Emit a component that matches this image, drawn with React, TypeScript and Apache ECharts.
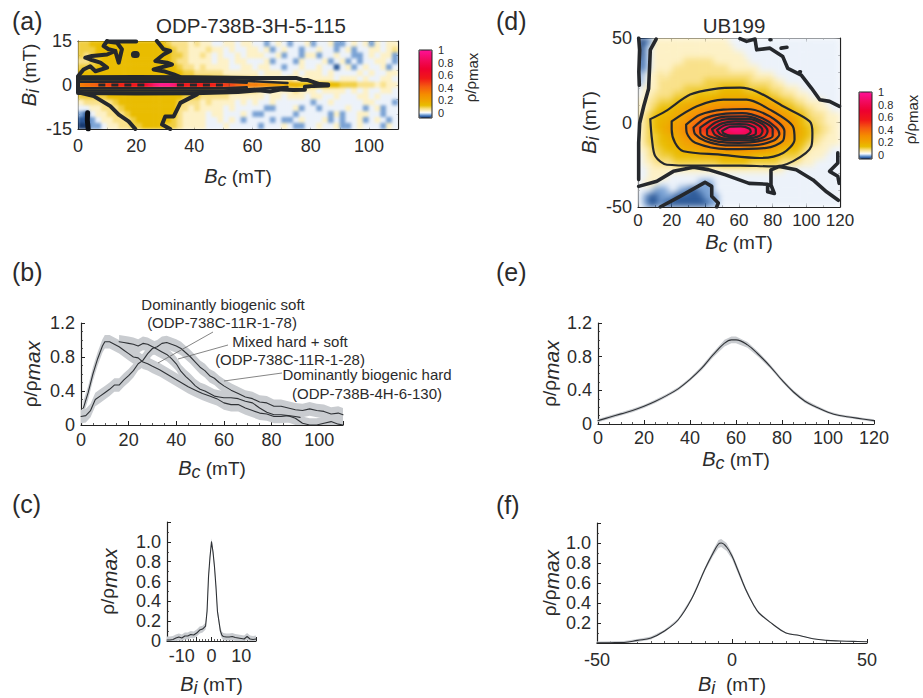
import React, { useEffect, useRef } from "react";
import * as echarts from "echarts";

const FONT = "Liberation Sans";
const INK = "#2b2b2b";
const CONTOUR = "#25282c";
const BAND = "#c9ccd0";

// Density maps: one base-36 character per cell, 3 = 0, z = 1 (step 1/32), top row first.
const mapARows = [
  "66777 77777 77777 65554 54433 44344 33234 32334 23342 23434 24344",
  "66677 77777 77777 76554 44544 34334 43423 43323 34332 34233 44345",
  "65677 77777 77777 76654 45434 33434 44334 23324 42334 33223 43442",
  "55667 77777 77777 76554 44434 43443 33423 33243 33423 42323 34432",
  "66677 77777 77777 77655 45444 43344 34433 23343 34331 34234 33423",
  "77777 77777 77777 77766 55555 44444 43444 33434 44343 33343 43344",
  "88887 88888 88888 88888 77766 65555 54444 45444 44443 44434 33443",
  "efghi jklmn nptxz zxqnm nmmlk jigfe edcba 98877 77777 66655 54544",
  "88888 88888 88888 88888 77766 65555 54444 44544 43444 43434 33443",
  "66666 77777 77777 77766 65555 54444 44344 34443 44334 33344 34333",
  "45555 56777 77777 77655 54544 44343 43343 33333 23343 33334 43332",
  "33445 55677 77777 77554 54444 34333 33223 33423 32333 34332 34233",
  "21344 55567 77777 77544 44344 33343 22333 33233 33324 23344 33233",
  "11234 45556 77777 76544 44334 34323 33323 22343 33423 23342 34323",
  "00223 44556 67777 66544 44333 43333 32333 43223 34334 22343 33243",
];
const mapDRows = [
  "01244 44444 44444 44433 33333 33333 33333 33333",
  "02344 44444 44444 44443 33333 33333 33333 33333",
  "02344 44444 44444 44444 43333 33333 33333 33333",
  "12344 44445 55555 44444 44333 33333 33333 33333",
  "12344 44555 55555 55544 44443 33333 33333 33333",
  "23445 45555 55555 55555 55544 44333 33333 33333",
  "23445 55555 55566 66666 66555 55443 33333 33333",
  "34445 55556 66666 67777 76666 65554 44333 33333",
  "34455 55666 67777 78888 88777 76655 54443 33333",
  "44556 66778 88999 aaaaa aaaa9 99876 65544 44333",
  "44567 77899 aabbc ccddd dddcc bba98 76655 44433",
  "45677 8899a bcdef gghhh hhggf edcba 98765 55444",
  "45678 89aab dfghj klmno onmlk jhfdc b9766 55444",
  "45678 9aabd fhjmo rtwyz xwusp nkied ba876 65544",
  "45667 889ab defgh klnpr srpnl ihfdc b9876 55444",
  "45667 7889a abcde fgghh hhggf edcba 98765 54444",
  "44566 77789 99aab bbccc ccbbb aa987 77654 44433",
  "34556 66777 77888 88888 88877 77766 66544 44333",
  "34455 55666 66666 67777 77666 66655 55444 33333",
  "33444 44444 44444 44444 44444 44443 33333 33333",
  "33444 43333 33333 33333 33333 33333 33333 33333",
  "34443 33333 33222 33333 33333 33333 33333 33333",
  "33322 23322 11222 33333 33333 33333 33333 33333",
  "32112 22111 11122 23333 33333 33333 33333 33333",
  "32112 11111 11112 23333 33333 33333 33333 33333",
];

// Contours of panel (a), [Bc, Bi]
const aUpperContour = [[0,3],[1.9,5.3],[4.2,6.4],[6,4.7],[10,5.9],[7.7,7.6],[4.2,8.7],[2.5,9.3],[4.8,9.9],[10,10.4],[12.8,11.6],[10.5,12.2],[8.8,13.3],[10,15]];
const aSpur = [[12.8,11.6],[14,7.6],[15.1,12.2],[13.4,14.4],[10,14.8],[20,14.8]];
const aRightContour = [[27.1,15],[29.4,12.2],[31.7,11.6],[29.4,10.4],[26.6,8.2],[30.6,7.6],[32.3,7],[28.3,5.9],[26,5.3],[29.4,4.7],[32.9,3.6],[35,2.8]];
const aDot = [[19.4,10.4],[20,10.4]];
const aLowerLeft = [[0.8,-2.7],[5.4,-3.8],[11.1,-7.2],[14,-10.1],[17.4,-12.4],[19.7,-15]];
const aLowerRight = [[40.9,-3.2],[35.2,-6.1],[32.9,-10.7],[30,-10.7],[28.9,-13.5],[31.7,-15]];
const aBlueSpot = [[3.3,-9.5],[3.2,-12],[3.5,-15]];
const aLensOuter = [[0,2.6],[20,2.7],[40,2.6],[60,2.4],[75,2.4],[77,1.8],[79,1.7],[81,1],[83,0.3],[86,0.2],[86,-0.2],[81,-0.3],[78,-0.6],[78,-1.6],[74,-1.7],[70,-1.5],[66,-2.2],[62,-1.8],[55,-2.4],[40,-2.8],[20,-2.9],[0,-2.7],[0,2.6]];
const aLensStrands = [
  [[0,1.9],[50,1.8],[60,1.3],[72,0.7]],
  [[0,-1.9],[50,-1.9],[60,-1.4],[72,-0.7]],
  [[0,1.1],[50,1.1],[58,0.8]],
  [[0,-1.1],[50,-1.1],[58,-0.8]],
];
const aLensBreaks = [[[7,0],[23,0]],[[34,0],[52,0]]];

// Contours of panel (d)
const dThick = [
  [[10.8,49.4],[7.3,43],[6.9,33],[6.3,20],[3.4,9.6],[1,-0.3],[0.4,-12],[0.4,-33.8]],
  [[0.4,50],[1,43],[0.5,30],[0.8,22]],
  [[0.4,-37.8],[11.2,-34.8],[21,-28.9],[33,-26.5],[41.8,-27.9],[52,-31],[66,-36],[77,-36.5],[77,-41],[81,-42],[79,-37],[79,-28],[84,-26],[94,-28],[104,-34],[112,-41],[119,-46]],
  [[13.2,-50],[25,-43.7],[39.8,-35.4],[43.8,-37.8],[43.8,-43.7],[47.7,-47.6],[46.7,-50]],
  [[60.6,49.6],[64.5,48],[69.5,49.4],[70.5,43],[78.4,44],[86,39],[89,32],[97,28],[103,20.4],[108,13.5],[113.8,12.5],[119.7,9.6]],
  [[118.7,-18],[118.7,-24],[113.8,-28.9],[118.7,-31.8],[119.5,-36]],
  [[94,41],[94.4,41]],
  [[85,44],[88.5,44.5]],
  [[78.4,49],[78.9,49]],
  [[96,30],[96.5,30]],
  [[110.6,19.8],[111,19.8]],
];
const dLevels = [
  [[7.3,2],[16.2,6.6],[31,16.5],[44.8,19.8],[60.6,20.6],[70.4,18.4],[86.2,9.6],[102,0.7],[103.6,-6.2],[103,-14],[92,-23],[80.3,-26],[60.6,-25.5],[35,-25.5],[17.2,-25],[10.3,-20],[8.3,-10]],
  [[20,0.7],[35,9.6],[50.7,13.5],[64.5,13.5],[78.3,7.6],[92,-2.3],[93,-10],[86.2,-18],[72.4,-21],[48.7,-19],[27,-17],[22,-12],[20,-4]],
  [[28.6,-1.3],[36.9,4.6],[50.7,7.6],[64.5,8],[78.3,3.6],[87,-5.2],[86,-11],[76.3,-15],[52.7,-15.7],[34,-12],[29,-6.2]],
  [[33,-3],[40,2.5],[50,5],[62,5.5],[74,2.5],[82,-3],[84,-7],[80,-11],[68,-13.5],[52,-13.5],[40,-11],[34,-7]],
  [[37,-3],[44,1.5],[52,3.5],[64,3.6],[72,1.5],[80,-4],[80,-8],[72,-11],[60,-12],[48,-11.5],[40,-9],[37,-6]],
  [[41,-4],[46,0],[54,2],[66,2],[74,-1],[77,-5],[75,-8.5],[66,-10.5],[54,-10.5],[45,-9],[41,-7]],
  [[44,-4],[50,-0.5],[58,0.7],[66,0.5],[72,-2],[74,-5],[72,-8],[64,-9.5],[52,-9.5],[46,-7.5]],
  [[47,-4.5],[52,-1.5],[60,-0.9],[66,-1.5],[70,-4],[70,-6.5],[64,-8.5],[54,-8.5],[49,-7]],
  [[50,-5],[55,-2.5],[61,-2.3],[66,-3.5],[67,-5.5],[63,-7.7],[55,-7.7],[51,-6.5]],
];

// Panel (b)
const softBc = [1,3,5,7,9,10,12,14,16,18,20,22,24,26,28,30,33,36,39,42,45,48,51,54,57,60,63,66,69,72,75,78,81,84,87,90,92];
const softRho = [0.2,0.38,0.6,0.78,0.93,0.98,0.98,0.95,0.92,0.88,0.84,0.8,0.79,0.74,0.72,0.69,0.65,0.6,0.55,0.5,0.45,0.41,0.37,0.34,0.31,0.26,0.24,0.24,0.2,0.17,0.14,0.13,0.1,0.1,0.11,0.1,0.09];
const mixedBc = [16,18,20,22,24,26,28,30,32,34,36,38,40,42,44,46,48,50,52,54,56,58,60,63,66,69,72,75,78,81,84,87,90,93,96,99,102,105,108,110];
const mixedRho = [0.98,0.97,0.96,0.95,0.93,0.96,0.95,0.92,0.89,0.86,0.83,0.78,0.72,0.63,0.57,0.52,0.46,0.42,0.4,0.37,0.34,0.33,0.32,0.32,0.31,0.28,0.26,0.2,0.15,0.12,0.12,0.11,0.08,0.02,0,0,0.02,0.04,0.01,0];
const hardBc = [0,2,4,6,8,10,12,14,16,18,20,22,24,26,28,30,32,34,36,38,40,42,44,46,48,50,52,54,56,58,60,63,66,69,72,75,78,81,84,87,90,93,96,99,102,105,108,110];
const hardRho = [0.1,0.11,0.17,0.3,0.34,0.38,0.42,0.47,0.47,0.53,0.58,0.64,0.72,0.76,0.84,0.9,0.92,0.96,0.97,0.95,0.93,0.9,0.85,0.8,0.74,0.68,0.64,0.58,0.55,0.5,0.46,0.41,0.37,0.33,0.31,0.27,0.26,0.22,0.22,0.2,0.18,0.17,0.19,0.17,0.16,0.13,0.14,0.12];
const bHalfBand = 0.08;

// Panel (c)
const cBi = [-15,-14,-13,-12,-11,-10,-9,-8,-7,-6,-5,-4,-3,-2,-1.5,-1,-0.5,0,0.5,1,1.5,2,3,3.5,4,5,6,7,8,9,10,11,12,13,14,15];
const cRho = [0.01,0.01,0.015,0.03,0.04,0.03,0.05,0.05,0.065,0.06,0.08,0.11,0.12,0.15,0.3,0.65,0.85,1,0.9,0.75,0.55,0.3,0.1,0.06,0.045,0.04,0.04,0.045,0.035,0.03,0.025,0.02,0.045,0.02,0.015,0.02];
const cHalfBand = 0.035;

// Panel (e)
const eBc = [0,5,10,15,20,25,30,35,40,45,50,55,58,60,65,70,75,80,85,90,95,100,105,110,115,120];
const eRho = [0.04,0.08,0.12,0.16,0.21,0.27,0.34,0.42,0.53,0.66,0.82,0.96,1,1,0.94,0.82,0.68,0.52,0.38,0.27,0.2,0.14,0.1,0.08,0.06,0.04];
const eBand = [0.02,0.02,0.02,0.02,0.02,0.02,0.02,0.02,0.02,0.025,0.03,0.04,0.04,0.04,0.035,0.03,0.025,0.02,0.02,0.02,0.02,0.015,0.015,0.015,0.015,0.015];

// Panel (f)
const fBi = [-50,-45,-40,-35,-30,-25,-20,-15,-10,-7,-5,-4,-2,0,2,5,8,10,15,20,25,30,35,40,45,50];
const fRho = [0.002,0.003,0.005,0.026,0.05,0.12,0.23,0.44,0.74,0.9,0.99,1,0.96,0.87,0.74,0.54,0.38,0.3,0.19,0.1,0.075,0.042,0.026,0.02,0.016,0.013];
const fBand = [0.012,0.015,0.015,0.015,0.015,0.012,0.012,0.015,0.02,0.03,0.04,0.04,0.04,0.03,0.03,0.02,0.012,0.01,0.006,0.005,0.004,0.003,0.003,0.003,0.003,0.003];

const colourStops: [number, string][] = [
  [-0.08,"#16396f"],[-0.05,"#3b6fb5"],[-0.02,"#9fc0e6"],[0.005,"#ffffff"],[0.03,"#fdf2c8"],[0.07,"#f7dd7c"],
  [0.12,"#e8bd00"],[0.2,"#f0a400"],[0.3,"#f58a00"],[0.42,"#f55a10"],[0.55,"#f01818"],[0.7,"#ee0030"],[0.85,"#f20a60"],[1,"#ff1098"],
];

function ramp(): string[] {
  const out: string[] = [];
  const hex = (c: string) => [1, 3, 5].map((i) => parseInt(c.slice(i, i + 2), 16));
  for (let k = 0; k <= 108; k++) {
    const v = -0.08 + k / 100;
    let i = 0;
    while (i < colourStops.length - 2 && colourStops[i + 1][0] < v) i++;
    const [a, ca] = colourStops[i];
    const [b, cb] = colourStops[i + 1];
    const t = Math.min(1, Math.max(0, (v - a) / (b - a)));
    const A = hex(ca), B = hex(cb);
    out.push("rgb(" + A.map((x, j) => Math.round(x + (B[j] - x) * t)).join(",") + ")");
  }
  return out;
}

const rich = {
  i: { fontFamily: FONT, fontStyle: "italic", fontSize: 20, color: INK, lineHeight: 26 },
  s: { fontFamily: FONT, fontStyle: "italic", fontSize: 18, color: INK, verticalAlign: "bottom", lineHeight: 22, padding: [4, 0, 0, 0] },
  n: { fontFamily: FONT, fontSize: 19, color: INK, lineHeight: 26 },
  m: { fontFamily: FONT, fontStyle: "italic", fontSize: 21, color: INK, verticalAlign: "bottom", lineHeight: 22, padding: [8, 0, 0, 0] },
  c: { fontFamily: FONT, fontSize: 15, color: INK, lineHeight: 20 },
  d: { fontFamily: FONT, fontSize: 15, color: INK, verticalAlign: "bottom", lineHeight: 18, padding: [6, 0, 0, 0] },
};
const BC = "{i|B}{s|c}{n| (mT)}";
const BI = "{i|B}{s|i}{n| (mT)}";
const BI2 = "{i|B}{s|i}{n|  (mT)}";
const RHO = "{n|ρ/ρ}{m|max}";
const RHO_BAR = "{c|ρ/ρ}{d|max}";

const mapPanels = [
  { left: 78, top: 41, width: 320, height: 88, blur: 1.6 },
  { left: 638, top: 38, width: 202, height: 169, blur: 3 },
];

function buildOption() {
  const grids: any[] = [], xAxes: any[] = [], yAxes: any[] = [], series: any[] = [];
  const tidy = (v: number, d: number) => (Math.abs(v) < 1e-9 ? "0" : v.toFixed(d));

  const axis = (list: any[], gridIndex: number, position: string, min: number, max: number, interval: number, minor: number, extra: any = {}) => {
    list.push({
      type: "value", gridIndex, position, min, max, interval,
      axisLine: { show: true, onZero: false, lineStyle: { color: "#222", width: 1.2 } },
      axisTick: { show: true, inside: true, length: 4, lineStyle: { color: "#222", width: 1 } },
      minorTick: { show: minor > 1, splitNumber: minor, length: 2, lineStyle: { color: "#333", width: 0.8 } },
      splitLine: { show: false }, minorSplitLine: { show: false },
      axisLabel: { show: true, fontFamily: FONT, fontSize: 18, color: INK, margin: 6, ...(extra.axisLabel || {}) },
      ...(extra.name ? { name: extra.name, nameLocation: "middle", nameGap: extra.nameGap, nameTextStyle: { rich, ...(extra.nameStyle || {}) } } : {}),
    });
    return list.length - 1;
  };

  const line = (xi: number, yi: number, data: number[][], width: number, smooth: number | boolean = false, color = CONTOUR, dash?: number[]) => {
    series.push({
      type: "line", xAxisIndex: xi, yAxisIndex: yi, data, symbol: "none", silent: true, smooth, clip: true,
      lineStyle: { color, width, cap: "round", join: "round", ...(dash ? { type: dash, cap: "butt" } : {}) },
    });
  };

  // Grey band: one polygon through the library's coordinate system, clipped to the grid.
  const band = (xi: number, yi: number, xs: number[], ys: number[], half: (i: number) => number) => {
    const lo = xs.map((_, i) => Math.max(0, ys[i] - half(i)));
    const hi = xs.map((_, i) => ys[i] + half(i));
    series.push({
      type: "custom", coordinateSystem: "cartesian2d", xAxisIndex: xi, yAxisIndex: yi, silent: true, clip: true,
      data: xs.map((x, i) => [x, lo[i], hi[i]]), encode: { x: 0, y: [1, 2] },
      renderItem: (params: any, api: any) => {
        if (params.dataIndex !== 0) return null;
        const up = xs.map((x, i) => api.coord([x, hi[i]]));
        const down = xs.map((x, i) => api.coord([x, lo[i]])).reverse();
        return { type: "polygon", shape: { points: [...up, ...down] }, style: { fill: BAND } };
      },
    });
  };
  const curve = (xi: number, yi: number, xs: number[], ys: number[], smooth: number | boolean = false) =>
    line(xi, yi, xs.map((x, i) => [x, ys[i]]), 1.1, smooth, "#2f3236");

  const heat = (gridIndex: number, rows: string[]) => {
    const cells = rows.map((r) => r.replace(/\s/g, ""));
    const cols = cells[0].length;
    xAxes.push({ type: "category", gridIndex, show: false, data: Array.from({ length: cols }, (_, i) => i) });
    yAxes.push({ type: "category", gridIndex, show: false, inverse: true, data: cells.map((_, i) => i) });
    const data: number[][] = [];
    cells.forEach((r, j) => [...r].forEach((ch, i) => data.push([i, j, (parseInt(ch, 36) - 3) / 32])));
    series.push({ type: "heatmap", xAxisIndex: xAxes.length - 1, yAxisIndex: yAxes.length - 1, data, silent: true, progressive: 0, emphasis: { disabled: true } });
    return series.length - 1;
  };

  const frame = (g: number, xr: number[], yr: number[], minorX: number, minorY: number) => {
    axis(xAxes, g, "top", xr[0], xr[1], xr[2], minorX, { axisLabel: { show: false } });
    axis(yAxes, g, "right", yr[0], yr[1], yr[2], minorY, { axisLabel: { show: false } });
  };

  // The colour bar's scale runs one interval past 0 and 1, so that all six labels are kept.
  const colourAxis = (left: number, zeroY: number) => {
    grids.push({ left, top: zeroY - 75.6, width: 13, height: 88.2, show: false });
    const g = grids.length - 1;
    xAxes.push({ type: "value", gridIndex: g, show: false, min: 0, max: 1 });
    yAxes.push({
      type: "value", gridIndex: g, position: "right", min: -0.2, max: 1.2, interval: 0.2,
      axisLine: { show: false }, axisTick: { show: false }, splitLine: { show: false },
      axisLabel: { fontFamily: FONT, fontSize: 11, lineHeight: 12, color: INK, margin: 6, formatter: (v: number) => {
        if (v < -0.01 || v > 1.01) return "";
        return Math.abs(v) < 1e-9 ? "0" : Math.abs(v - 1) < 1e-9 ? "1" : v.toFixed(1);
      } },
      name: RHO_BAR, nameLocation: "middle", nameGap: 28, nameRotate: 90, nameTextStyle: { rich, padding: [0, 0, 0, 8] },
    });
  };

  // (a)
  grids.push({ left: 78, top: 41, width: 320, height: 88, show: false });
  const hA = heat(0, mapARows);
  const ax = axis(xAxes, 0, "bottom", 0, 110, 20, 2, { name: BC, nameGap: 34, axisLabel: { margin: 8 } });
  const ay = axis(yAxes, 0, "left", -15, 15, 15, 3, { name: BI, nameGap: 29, nameStyle: { padding: [0, 0, 0, 20] }, axisLabel: { formatter: (v: number) => String(v) } });
  frame(0, [0, 110, 20], [-15, 15, 15], 2, 3);
  [aUpperContour, aSpur, aRightContour, aLowerLeft, aLowerRight].forEach((c) => line(ax, ay, c, 4));
  line(ax, ay, aDot, 7);
  line(ax, ay, aBlueSpot, 5, false, "#0c0f14");
  line(ax, ay, aLensOuter, 4);
  aLensStrands.forEach((c) => line(ax, ay, c, 2.6));
  aLensBreaks.forEach((c) => line(ax, ay, c, 3, false, CONTOUR, [7, 6]));

  // (d)
  grids.push({ left: 638, top: 38, width: 202, height: 169, show: false });
  const gD = grids.length - 1;
  const hD = heat(gD, mapDRows);
  const dx = axis(xAxes, gD, "bottom", 0, 120, 20, 2, { name: BC, nameGap: 22, axisLabel: { fontSize: 17, margin: 5 } });
  const dy = axis(yAxes, gD, "left", -50, 50, 50, 5, { name: BI, nameGap: 28, axisLabel: { fontSize: 18, formatter: (v: number) => String(v) } });
  frame(gD, [0, 120, 20], [-50, 50, 50], 2, 5);
  dThick.forEach((c) => line(dx, dy, c, 3.6));
  dLevels.forEach((c) => line(dx, dy, [...c, c[0]], 2.2, 0.3));

  // (b)
  grids.push({ left: 81, top: 323, width: 262, height: 102, show: false });
  const gB = grids.length - 1;
  const bx = axis(xAxes, gB, "bottom", 0, 110, 20, 4, { name: BC, nameGap: 30 });
  const by = axis(yAxes, gB, "left", 0, 1.2, 0.4, 4, { name: RHO, nameGap: 38, axisLabel: { formatter: (v: number) => tidy(v, 1) } });
  band(bx, by, softBc, softRho, () => bHalfBand);
  band(bx, by, mixedBc, mixedRho, () => bHalfBand);
  band(bx, by, hardBc, hardRho, () => bHalfBand);
  curve(bx, by, softBc, softRho);
  curve(bx, by, mixedBc, mixedRho);
  curve(bx, by, hardBc, hardRho);

  // (c)
  grids.push({ left: 167, top: 522, width: 89, height: 121, show: false });
  const gC = grids.length - 1;
  const cx = axis(xAxes, gC, "bottom", -15, 15, 5, 5, { name: BI, nameGap: 30, axisLabel: { formatter: (v: number) => (v % 10 === 0 ? String(v) : "") } });
  const cy = axis(yAxes, gC, "left", 0, 1.2, 0.2, 2, { name: RHO, nameGap: 47, axisLabel: { formatter: (v: number) => (v > 1.1 ? "" : tidy(v, 1)) } });
  band(cx, cy, cBi, cRho, () => cHalfBand);
  curve(cx, cy, cBi, cRho);

  // (e)
  grids.push({ left: 598, top: 323, width: 276, height: 101, show: false });
  const gE = grids.length - 1;
  const ex = axis(xAxes, gE, "bottom", 0, 120, 20, 4, { name: BC, nameGap: 22, axisLabel: { margin: 5 } });
  const ey = axis(yAxes, gE, "left", 0, 1.2, 0.4, 4, { name: RHO, nameGap: 36, axisLabel: { formatter: (v: number) => tidy(v, 1) } });
  band(ex, ey, eBc, eRho, (i) => eBand[i]);
  curve(ex, ey, eBc, eRho, 0.4);

  // (f)
  grids.push({ left: 597, top: 523, width: 270, height: 122, show: false });
  const gF = grids.length - 1;
  const fx = axis(xAxes, gF, "bottom", -50, 50, 50, 10, { name: BI2, nameGap: 28, axisLabel: { margin: 8 } });
  const fy = axis(yAxes, gF, "left", 0, 1.2, 0.2, 2, { name: RHO, nameGap: 35, axisLabel: { formatter: (v: number) => (v > 1.1 || v === 0 ? "" : tidy(v, 1)) } });
  band(fx, fy, fBi, fRho, (i) => fBand[i]);
  curve(fx, fy, fBi, fRho, 0.4);

  colourAxis(419, 113);
  colourAxis(859, 155);

  const colours = ramp();
  const vm = (seriesIndex: number, left: number, top: number, h: number) => ({
    type: "continuous", seriesIndex, dimension: 2, min: -0.08, max: 1, left, top, itemWidth: 13, itemHeight: h, padding: 0,
    calculable: false, realtime: false, hoverLink: false, text: null, inRange: { color: colours },
  });

  const text = (x: number, y: number, t: string, size: number, align = "center") => ({
    type: "text", x, y, silent: true, z: 20,
    style: { text: t, fontFamily: FONT, fontSize: size, fill: INK, align, verticalAlign: "middle" },
  });
  const leader = (x1: number, y1: number, x2: number, y2: number) => ({
    type: "line", silent: true, shape: { x1, y1, x2, y2 }, style: { stroke: "#666", lineWidth: 0.8 }, z: 20,
  });
  const outline = (x: number, y: number, h: number) => ({
    type: "rect", silent: true, shape: { x, y, width: 13, height: h }, style: { fill: "none", stroke: "#222", lineWidth: 1 }, z: 20,
  });

  const titleStyle = { fontFamily: FONT, fontSize: 20.5, fontWeight: "normal", color: INK };
  return {
    animation: false,
    backgroundColor: "#fff",
    grid: grids,
    xAxis: xAxes,
    yAxis: yAxes,
    series,
    visualMap: [vm(hA, 419, 50, 68), vm(hD, 859, 92, 67)],
    title: [
      { text: "ODP-738B-3H-5-115", left: 246, top: 10, textAlign: "center", textStyle: titleStyle },
      { text: "UB199", left: 729, top: 10, textAlign: "center", textStyle: titleStyle },
    ],
    graphic: [
      text(12, 21, "(a)", 25, "left"), text(12, 272, "(b)", 25, "left"), text(12, 504, "(c)", 25, "left"),
      text(496, 21, "(d)", 25, "left"), text(496, 272, "(e)", 25, "left"), text(496, 505, "(f)", 25, "left"),
      text(223, 304, "Dominantly biogenic soft", 15), text(222, 322, "(ODP-738C-11R-1-78)", 15),
      text(290, 341, "Mixed hard + soft", 15), text(290, 359, "(ODP-738C-11R-1-28)", 15),
      text(367, 374, "Dominantly biogenic hard", 15), text(367, 393, "(ODP-738B-4H-6-130)", 15),
      leader(158, 363, 213, 332), leader(178, 359, 228, 345), leader(224, 381, 282, 373),
      outline(419, 50, 68), outline(859, 92, 67),
    ],
  };
}

// The reference maps are smoothed: gather each map's heatmap cells into one softly blurred SVG group.
function softenMaps(root: HTMLElement) {
  const svg = root.querySelector("svg");
  if (!svg) return;
  const NS = "http://www.w3.org/2000/svg";
  const all = Array.from(svg.querySelectorAll("path")) as SVGPathElement[];
  let defs = svg.querySelector("defs");
  if (!defs) {
    defs = document.createElementNS(NS, "defs");
    svg.insertBefore(defs, svg.firstChild);
  }
  mapPanels.forEach((p, k) => {
    const cells = all.filter((el) => {
      const fill = el.getAttribute("fill");
      if (!fill || fill === "none" || fill.startsWith("url")) return false;
      const b = el.getBBox();
      return b.width > 2 && b.width < 10 && b.height > 2 && b.height < 10 &&
        b.x >= p.left - 1 && b.y >= p.top - 1 && b.x + b.width <= p.left + p.width + 1 && b.y + b.height <= p.top + p.height + 1;
    });
    if (!cells.length) return;
    const f = document.createElementNS(NS, "filter");
    f.setAttribute("id", "soft-map-" + k);
    f.setAttribute("filterUnits", "userSpaceOnUse");
    f.setAttribute("x", String(p.left));
    f.setAttribute("y", String(p.top));
    f.setAttribute("width", String(p.width));
    f.setAttribute("height", String(p.height));
    f.setAttribute("color-interpolation-filters", "sRGB");
    const blur = document.createElementNS(NS, "feGaussianBlur");
    blur.setAttribute("stdDeviation", String(p.blur));
    blur.setAttribute("edgeMode", "duplicate");
    f.appendChild(blur);
    defs!.appendChild(f);
    const g = document.createElementNS(NS, "g");
    g.setAttribute("filter", "url(#soft-map-" + k + ")");
    cells[0].parentNode!.insertBefore(g, cells[0]);
    cells.forEach((c) => g.appendChild(c));
  });
}

export default function App() {
  const ref = useRef<HTMLDivElement>(null);
  useEffect(() => {
    const chart = echarts.init(ref.current!, undefined, { renderer: "svg" });
    chart.setOption(buildOption() as any);
    softenMaps(ref.current!);
    return () => chart.dispose();
  }, []);
  return <div ref={ref} style={{ position: "absolute", left: 0, top: 0, width: 923, height: 698 }} />;
}
